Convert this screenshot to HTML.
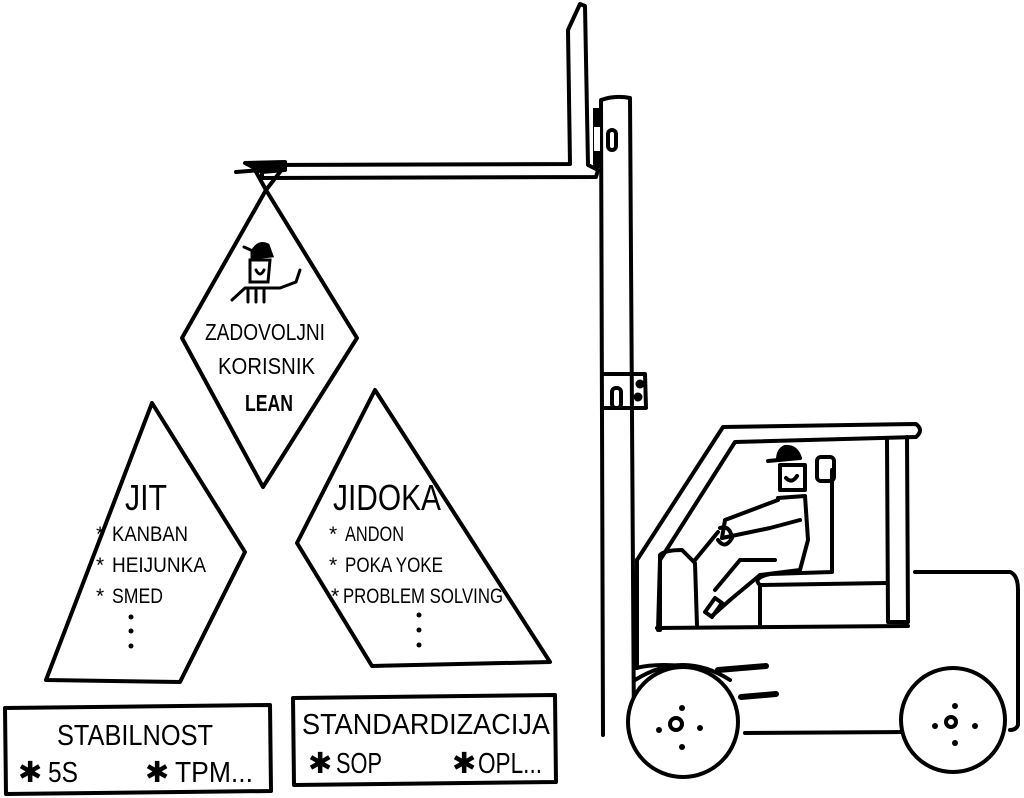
<!DOCTYPE html>
<html><head><meta charset="utf-8"><style>
html,body{margin:0;padding:0;background:#fff}
svg{display:block}
text{font-family:"Liberation Sans Narrow","Liberation Sans",sans-serif;fill:#000}
</style></head><body>
<svg width="1024" height="798" viewBox="0 0 1024 798" xmlns="http://www.w3.org/2000/svg">
<g fill="none" stroke="#000" stroke-width="4" stroke-linejoin="round" stroke-linecap="round">
<path d="M262,165 L570,164 L568,30 L580,4 L585,6 L588,165 L598,170 L596,177 L262,178 Z" fill="#fff"/>
<path d="M245,163 L285,162 L285,170 L262,172 Z" fill="#000"/>
<path d="M236,172 L262,170"/>
<path d="M255,170 L266,190 L280,172"/>
<path d="M603,735 L601,100 Q615,95 630,98 L634,735" fill="#fff"/>
<rect x="593" y="108" width="9" height="60" fill="#000" stroke="none"/>
<rect x="594" y="127" width="6" height="24" fill="#fff" stroke="none"/>
<rect x="608" y="130" width="8" height="20" rx="4"/>
<path d="M604,374 L645,374 L646,408 L604,408"/>
<rect x="612" y="388" width="9" height="20" rx="4"/>
<circle cx="640" cy="384" r="2.5" fill="#000"/>
<circle cx="638" cy="397" r="2.5" fill="#000"/>
<path d="M266,190 L357,338 L263,487 L182,338 Z"/>
<path d="M152,403 L245,552 L180,682 L46,680 Z"/>
<path d="M375,390 L550,662 L372,666 L297,543 Z"/>
<path d="M5,708 L270,705 L271,791 L6,794 Z"/>
<path d="M293,698 L555,695 L556,782 L294,785 Z"/>
<path d="M637,560 L723,427 L916,424 Q924,430 916,437 L735,442 L660,560 L658,630"/>
<path d="M637,560 L637,668"/>
<path d="M887,440 L888,622 L908,622 L907,437"/>
<path d="M915,572 L1010,572 Q1018,575 1018,590 L1018,725 Q1016,730 1010,730"/>
<path d="M745,733 L905,732"/>
<path d="M657,628 L908,626"/>
<path d="M636,668 Q660,662 700,668"/>
<path d="M718,670 L766,666" stroke-width="6"/>
<path d="M741,697 L776,694" stroke-width="6"/>
<path d="M660,630 L660,555 Q665,550 682,550 L695,563 L697,626"/>
<path d="M760,626 L760,585 L886,583"/>
<path d="M760,585 Q752,578 770,574 L832,572 L832,470"/>
<rect x="817" y="457" width="17" height="24" rx="4"/>
<path d="M780,465 L780,490 L805,490 L805,465 Z"/>
<path d="M768,461 L800,458 Q796,446 785,447 Q778,450 778,460" fill="#000"/>
<path d="M786,478 Q792,484 797,476"/>
<path d="M778,498 L805,496 L808,540 L800,570 L760,575"/>
<path d="M778,500 L725,520 L722,538 L770,528 L800,520"/>
<path d="M760,575 L730,600 L712,616 M775,560 L740,560 L715,590"/>
<path d="M715,598 L705,612 L712,617 L722,603 Z"/>
<path d="M695,560 L718,532 M720,528 Q730,525 732,538 Q725,550 718,540"/>
<circle cx="683" cy="722" r="55" fill="#fff"/>
<path d="M635,680 Q683,650 730,680"/>
<circle cx="953" cy="720" r="52" fill="#fff"/>
<circle cx="676" cy="724" r="6"/>
<circle cx="951" cy="722" r="5"/>
</g>
<g fill="#000">
<circle cx="682" cy="708" r="3"/><circle cx="682" cy="747" r="3"/><circle cx="659" cy="730" r="3"/><circle cx="700" cy="728" r="3"/>
<circle cx="955" cy="706" r="3"/><circle cx="955" cy="743" r="3"/><circle cx="935" cy="726" r="3"/><circle cx="975" cy="726" r="3"/>
<circle cx="131" cy="617" r="2.5"/><circle cx="131" cy="631" r="2.5"/><circle cx="131" cy="646" r="2.5"/>
<circle cx="419" cy="615" r="2.5"/><circle cx="419" cy="630" r="2.5"/><circle cx="419" cy="645" r="2.5"/>
</g>
<g fill="none" stroke="#000" stroke-width="3" stroke-linecap="round">
<path d="M250,260 L250,282 L268,282 L270,260 Z"/>
<path d="M244,247 L255,252 M252,252 Q258,240 268,245 L272,256 L252,258 Z" fill="#000"/>
<path d="M256,270 Q260,278 264,270"/>
<path d="M232,300 L245,288 L280,288 L296,282 L300,270"/>
<path d="M248,290 L248,302 M256,290 L256,302 M264,290 L264,302"/>
</g>
<g font-size="23">
<text x="205" y="340" textLength="120" lengthAdjust="spacingAndGlyphs">ZADOVOLJNI</text>
<text x="218" y="374" textLength="97" lengthAdjust="spacingAndGlyphs">KORISNIK</text>
<text x="245" y="411" font-weight="bold" textLength="48" lengthAdjust="spacingAndGlyphs">LEAN</text>
</g>
<text x="125" y="510" font-size="36" textLength="42" lengthAdjust="spacingAndGlyphs">JIT</text>
<text x="333" y="510" font-size="36" textLength="108" lengthAdjust="spacingAndGlyphs">JIDOKA</text>
<g font-size="21">
<text x="96" y="541">*</text><text x="112" y="541" textLength="76" lengthAdjust="spacingAndGlyphs">KANBAN</text>
<text x="96" y="572">*</text><text x="112" y="572" textLength="94" lengthAdjust="spacingAndGlyphs">HEIJUNKA</text>
<text x="96" y="603">*</text><text x="112" y="603" textLength="51" lengthAdjust="spacingAndGlyphs">SMED</text>
<text x="329" y="541">*</text><text x="345" y="541" textLength="59" lengthAdjust="spacingAndGlyphs">ANDON</text>
<text x="329" y="572">*</text><text x="345" y="572" textLength="98" lengthAdjust="spacingAndGlyphs">POKA YOKE</text>
<text x="331" y="603">*</text><text x="343" y="603" textLength="160" lengthAdjust="spacingAndGlyphs">PROBLEM SOLVING</text>
</g>
<g font-size="29">
<text x="57" y="745" textLength="156" lengthAdjust="spacingAndGlyphs">STABILNOST</text>
<text x="18" y="782">✱</text><text x="48" y="782" textLength="30" lengthAdjust="spacingAndGlyphs">5S</text>
<text x="145" y="782">✱</text><text x="175" y="782" textLength="78" lengthAdjust="spacingAndGlyphs">TPM...</text>
<text x="302" y="734" textLength="248" lengthAdjust="spacingAndGlyphs">STANDARDIZACIJA</text>
<text x="308" y="773">✱</text><text x="336" y="773" textLength="46" lengthAdjust="spacingAndGlyphs">SOP</text>
<text x="452" y="773">✱</text><text x="478" y="773" textLength="64" lengthAdjust="spacingAndGlyphs">OPL...</text>
</g>
</svg>
</body></html>
